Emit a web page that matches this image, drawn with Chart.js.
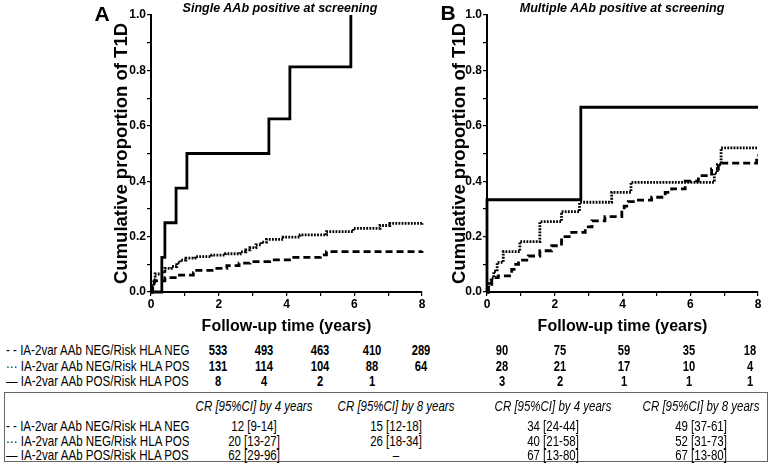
<!DOCTYPE html>
<html>
<head>
<meta charset="utf-8">
<script src="https://cdn.jsdelivr.net/npm/chart.js@4.4.0/dist/chart.umd.min.js"></script>
<style>
  html, body { margin: 0; padding: 0; background: #fff; }
  #fig { position: relative; width: 773px; height: 464px; overflow: hidden; font-family: Arial, "Liberation Sans", sans-serif; color: #000; }
  canvas { position: absolute; top: 0; }
  #chartA { left: 0; }
  #chartB { left: 430px; }
  .t { position: absolute; white-space: nowrap; line-height: 1; }
  #box { position: absolute; left: 4px; top: 392px; width: 764px; height: 70px; border: 1.5px solid #666; box-sizing: border-box; }
</style>
</head>
<body>
<div id="fig">
  <canvas id="chartA" width="440" height="340"></canvas>
  <canvas id="chartB" width="343" height="340"></canvas>
  <div id="box"></div>
</div>
<script>
// groups, same order in both panels
const groups = ['IA-2var AAb NEG/Risk HLA NEG', 'IA-2var AAb NEG/Risk HLA POS', 'IA-2var AAb POS/Risk HLA POS'];
const groupMarks = ['- -', '\u00b7\u00b7\u00b7', '\u2014'];

// panel A: single AAb positive at screening (time in years, cumulative proportion)
const singleNegNegT = [0, 0.05, 0.1, 0.41, 0.8, 1.25, 1.35, 1.8, 2.24, 2.6, 2.92, 3.5, 4.15, 5.0, 5.18, 8];
const singleNegNegY = [0, 0.02, 0.04, 0.052, 0.061, 0.07, 0.078, 0.085, 0.095, 0.104, 0.11, 0.116, 0.125, 0.134, 0.146, 0.148];
const singleNegPosT = [0, 0.03, 0.08, 0.12, 0.36, 0.41, 0.6, 0.76, 0.86, 1.03, 1.3, 1.79, 2.2, 2.63, 2.8, 2.92, 3.1, 3.25, 3.41, 3.9, 4.4, 5.18, 5.97, 6.76, 7.05, 8];
const singleNegPosY = [0, 0.02, 0.045, 0.065, 0.075, 0.085, 0.092, 0.105, 0.115, 0.122, 0.128, 0.133, 0.138, 0.145, 0.152, 0.16, 0.17, 0.18, 0.19, 0.198, 0.206, 0.218, 0.23, 0.24, 0.248, 0.25];
const singlePosPosT = [0, 0.32, 0.41, 0.74, 1.06, 3.48, 4.1, 5.9];
const singlePosPosY = [0, 0.125, 0.25, 0.375, 0.5, 0.625, 0.8125, 1.0];

// panel B: multiple AAb positive at screening
const multiNegNegT = [0, 0.04, 0.14, 0.33, 0.73, 0.8, 0.93, 1.22, 1.56, 1.91, 2.2, 2.5, 2.9, 3.1, 3.48, 3.98, 4.05, 4.17, 4.47, 4.86, 5.26, 5.45, 5.85, 6.24, 6.63, 6.83, 7.96, 8];
const multiNegNegY = [0, 0.028, 0.052, 0.058, 0.082, 0.1, 0.115, 0.13, 0.149, 0.167, 0.2, 0.215, 0.235, 0.257, 0.272, 0.295, 0.31, 0.326, 0.332, 0.342, 0.36, 0.372, 0.4, 0.42, 0.444, 0.465, 0.493, 0.493];
const multiNegPosT = [0, 0.05, 0.12, 0.2, 0.3, 0.48, 0.97, 1.56, 2.2, 2.73, 3.68, 4.25, 6.71, 6.8, 6.91, 8];
const multiNegPosY = [0, 0.03, 0.05, 0.075, 0.107, 0.146, 0.182, 0.254, 0.29, 0.324, 0.36, 0.396, 0.43, 0.46, 0.52, 0.52];
const multiPosPosT = [0, 0, 2.77, 8];
const multiPosPosY = [0, 0.333, 0.667, 0.667];

// numbers at risk
const atRiskSingle = [[533, 493, 463, 410, 289], [131, 114, 104, 88, 64], [8, 4, 2, 1]];
const atRiskMultiple = [[90, 75, 59, 35, 18], [28, 21, 17, 10, 4], [3, 2, 1, 1, 1]];

// cumulative risk table
const crHeaders = ['CR [95%CI] by 4 years', 'CR [95%CI] by 8 years', 'CR [95%CI] by 4 years', 'CR [95%CI] by 8 years'];
const crSingle4 = ['12 [9-14]', '20 [13-27]', '62 [29-96]'];
const crSingle8 = ['15 [12-18]', '26 [18-34]', '\u2013'];
const crMultiple4 = ['34 [24-44]', '40 [21-58]', '67 [13-80]'];
const crMultiple8 = ['49 [37-61]', '52 [31-73]', '67 [13-80]'];

const FONT = 'Arial, "Liberation Sans", sans-serif';

const lineStyles = [
    { borderDash: [7, 4], borderWidth: 2.8 },
    { borderDash: [1.8, 1.3], borderWidth: 2.8 },
    { borderDash: [], borderWidth: 2.8 }
];

const toPoints = (ts, ys) => ts.map((t, i) => ({ x: t, y: ys[i] }));

const kmChart = (id, curves, yWidth, rightPad, yTitlePad) => {
    const axisCommon = {
        grid: { drawOnChartArea: false, tickLength: 4, color: '#000', lineWidth: 1.2 },
        border: { color: '#000', width: 2 }
    };
    return new Chart(document.getElementById(id), {
        type: 'line',
        data: {
            datasets: curves.map((c, i) => ({
                data: toPoints(c[0], c[1]),
                stepped: true,
                borderColor: '#000',
                borderWidth: lineStyles[i].borderWidth,
                borderDash: lineStyles[i].borderDash,
                borderCapStyle: 'butt',
                pointRadius: 0,
                fill: false,
                clip: 6
            }))
        },
        options: {
            responsive: false,
            animation: false,
            layout: { padding: { top: 15, right: rightPad, left: 0, bottom: 0 } },
            plugins: { legend: { display: false }, tooltip: { enabled: false } },
            scales: {
                x: {
                    ...axisCommon,
                    type: 'linear',
                    min: 0,
                    max: 8,
                    afterFit: (s) => { s.height = 48; },
                    ticks: {
                        stepSize: 1, autoSkip: false, maxRotation: 0, padding: 1,
                        color: '#000', font: { family: FONT, size: 12, weight: 'bold' },
                        callback: (v) => (v % 2 === 0 ? String(v) : '')
                    },
                    title: {
                        display: true, text: 'Follow-up time (years)', color: '#000',
                        font: { family: FONT, size: 16, weight: 'bold' },
                        padding: { top: 0, bottom: 4 }
                    }
                },
                y: {
                    ...axisCommon,
                    min: 0,
                    max: 1,
                    afterFit: (s) => { s.width = yWidth; },
                    ticks: {
                        stepSize: 0.1, autoSkip: false, padding: 1,
                        color: '#000', font: { family: FONT, size: 12, weight: 'bold' },
                        callback: (v) => (Math.round(v * 10) % 2 === 0 ? v.toFixed(1) : '')
                    },
                    title: {
                        display: true, text: 'Cumulative proportion of T1D', color: '#000',
                        font: { family: FONT, size: 18.5, weight: 'bold' },
                        padding: { top: yTitlePad, bottom: 0 }
                    }
                }
            }
        }
    });
};

kmChart('chartA', [[singleNegNegT, singleNegNegY], [singleNegPosT, singleNegPosY], [singlePosPosT, singlePosPosY]], 151, 18, 111);
kmChart('chartB', [[multiNegNegT, multiNegNegY], [multiNegPosT, multiNegPosY], [multiPosPosT, multiPosPosY]], 57, 15, 19);

// text overlays
const fig = document.getElementById('fig');
const addText = (txt, x, y, opts = {}) => {
    const el = document.createElement('div');
    el.className = 't';
    el.textContent = txt;
    el.style.left = x + 'px';
    el.style.top = y + 'px';
    el.style.fontSize = (opts.size || 14) + 'px';
    if (opts.bold) el.style.fontWeight = 'bold';
    if (opts.italic) el.style.fontStyle = 'italic';
    const sx = opts.sx || 1;
    const dx = opts.align === 'left' ? '0' : '-50%';
    el.style.transformOrigin = opts.align === 'left' ? 'left center' : 'center center';
    el.style.transform = `translate(${dx}, -50%) scaleX(${sx})`;
    fig.appendChild(el);
};

addText('A', 102, 13, { size: 21, bold: true });
addText('B', 448, 12, { size: 21, bold: true });
addText('Single AAb positive at screening', 280, 8, { size: 13.5, italic: true, bold: true, sx: 0.93 });
addText('Multiple AAb positive at screening', 622, 8, { size: 13.5, italic: true, bold: true, sx: 0.93 });

const riskRowY = [350, 366, 381];
const riskColA = [218, 264, 320, 372, 421];
const riskColB = [502, 560, 624, 689, 750];
groups.forEach((g, i) => {
    addText(groupMarks[i] + ' ' + g, 6, riskRowY[i], { align: 'left', size: 14.3, sx: 0.81 });
    atRiskSingle[i].forEach((n, j) => addText(String(n), riskColA[j], riskRowY[i], { bold: true, sx: 0.8 }));
    atRiskMultiple[i].forEach((n, j) => addText(String(n), riskColB[j], riskRowY[i], { bold: true, sx: 0.8 }));
});

const crColX = [254, 396, 553, 701];
const crHeadY = 406;
const crRowY = [426, 441, 455];
crHeaders.forEach((h, j) => addText(h, crColX[j], crHeadY, { italic: true, sx: 0.82 }));
const crCols = [crSingle4, crSingle8, crMultiple4, crMultiple8];
groups.forEach((g, i) => {
    addText(groupMarks[i] + ' ' + g, 6, crRowY[i], { align: 'left', size: 14.3, sx: 0.81 });
    crCols.forEach((col, j) => addText(col[i], crColX[j], crRowY[i], { sx: 0.82 }));
});
</script>
</body>
</html>
